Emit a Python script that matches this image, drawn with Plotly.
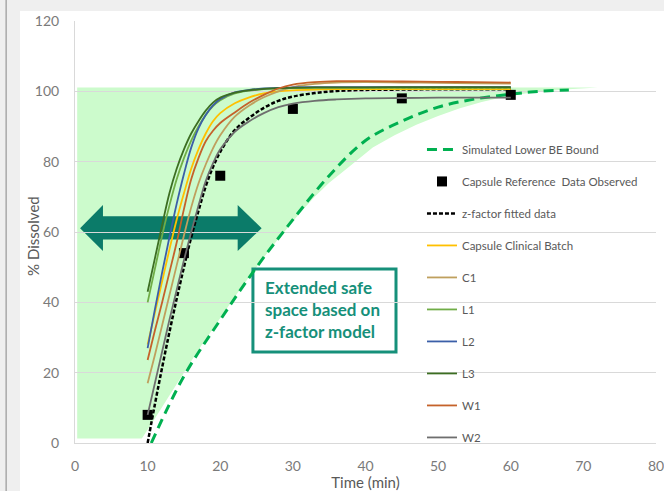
import plotly.graph_objects as go

# ---- dissolution data (% dissolved vs time in minutes) ----
t_fit = [10, 11, 12, 13, 14, 15, 16, 17, 18, 19, 20, 22, 24, 26, 28, 30, 33, 36, 40, 45, 50, 55, 60]

z_factor = [0, 11, 21.5, 31.5, 41, 50, 58.5, 66, 73, 78.5, 82.8, 89, 92.5, 95.3, 97.3, 98.5,
            99.5, 100.1, 100.4, 100.5, 100.6, 100.6, 100.6]
clinical = [28, 37, 46, 55, 63.5, 71, 78, 83.5, 88, 91.5, 93.8, 96.6, 98.3, 99.4, 100, 100.3,
            100.5, 100.6, 100.6, 100.6, 100.6, 100.6, 100.6]
c1 = [17, 25, 33.5, 42, 50.5, 59, 67, 73.8, 79.2, 83.8, 87.5, 92.8, 96, 98.3, 100, 101.2,
      102.1, 102.5, 102.6, 102.5, 102.4, 102.3, 102.2]
l1 = [40, 49.5, 59, 67.5, 75, 81, 86, 90, 93.3, 95.8, 97.5, 99.4, 100.2, 100.6, 100.8, 101,
      101, 101, 101, 101, 101, 101, 101]
l2 = [27, 38, 48.5, 58.5, 68, 76.5, 84, 89.5, 93.3, 96, 97.8, 99.7, 100.4, 100.8, 101, 101.1,
      101.2, 101.2, 101.2, 101.2, 101.2, 101.2, 101.2]
l3 = [43, 52.5, 62, 71, 78, 83.5, 88, 91.5, 94.5, 96.8, 98.2, 99.6, 100.3, 100.7, 100.9, 101,
      101.1, 101.1, 101.1, 101.2, 101.2, 101.2, 101.2]
w1 = [23.6, 32, 40, 48.5, 57, 66.5, 75, 81, 85.8, 88.8, 91, 94, 96.8, 99, 100.8, 101.9,
      102.6, 102.9, 102.9, 102.8, 102.7, 102.6, 102.5]
w2 = [8, 17, 26, 35, 43.5, 52, 60, 67.5, 74.5, 79.5, 83.5, 88.5, 91.5, 93.8, 95.5, 96.5,
      97.3, 97.7, 98, 98.1, 98.2, 98.2, 98.2]

# observed reference capsule data
t_obs = [10, 15, 20, 30, 45, 60]
ref_obs = [8, 54, 76, 95, 98, 99]

# simulated lower bioequivalence bound
t_be = [10.5, 15, 20, 25, 30, 35, 40, 45, 50, 55, 60, 64, 68]
be_lower = [0, 19, 35, 50, 63.5, 76, 86, 91.5, 95.5, 97.8, 99.2, 100, 100.4]

# outline of the extended safe space region
band_x = [0.3, 0.3, 72, 68, 65, 62, 59, 56, 53, 50, 47, 44, 41, 38, 35, 33, 31, 29, 27, 25,
          23, 21, 19, 17, 15, 13, 11, 9.2]
band_y = [1.3, 101.1, 101.1, 100.6, 100.1, 99.4, 98.4, 97, 95.2, 93, 90.5, 87.5, 84, 79, 74,
          70, 65.5, 60.5, 55.5, 50, 44.5, 38.5, 32.5, 26.5, 20, 13.5, 7, 1.3]

# double-headed arrow outline (time, % dissolved)
arrow_x = [0.7, 3.85, 3.85, 22.4, 22.4, 25.7, 22.4, 22.4, 3.85, 3.85]
arrow_y = [61.1, 67.7, 64.5, 64.5, 67.7, 61.1, 54.6, 57.9, 57.9, 54.6]

TEAL = "#0B7B69"
TEXT_TEAL = "#16907A"


def path_from(xs, ys):
    pts = [f"{x},{y}" for x, y in zip(xs, ys)]
    return "M " + " L ".join(pts) + " Z"


fig = go.Figure()

fig.add_trace(go.Scatter(
    x=t_be, y=be_lower, mode="lines", name="Simulated Lower BE Bound",
    line=dict(color="#00B050", width=3, dash="10px,6px", shape="spline"),
    legendgroup="g1"))
fig.add_trace(go.Scatter(
    x=t_obs, y=ref_obs, mode="markers", name="Capsule Reference  Data Observed",
    marker=dict(symbol="square", size=10, color="black"), legendgroup="g2"))
fig.add_trace(go.Scatter(
    x=t_fit, y=z_factor, mode="lines", name="z-factor fitted data",
    line=dict(color="black", width=2.5, dash="4px,2px", shape="spline"), legendgroup="g3"))

batches = [
    ("Capsule Clinical Batch", clinical, "#FFC000"),
    ("C1", c1, "#BFA05E"),
    ("L1", l1, "#70AD47"),
    ("L2", l2, "#3B5FA8"),
    ("L3", l3, "#3C6E22"),
    ("W1", w1, "#C5622A"),
    ("W2", w2, "#6E6E6E"),
]
for i, (name, vals, col) in enumerate(batches):
    fig.add_trace(go.Scatter(
        x=t_fit, y=vals, mode="lines", name=name,
        line=dict(color=col, width=1.8, shape="spline"), legendgroup=f"b{i}"))

shapes = [
    # white chart panel over the grey window frame
    dict(type="rect", xref="paper", yref="paper", x0=-0.0947, x1=1.02, y0=-0.12, y1=1.0237,
         fillcolor="white", line=dict(width=0), layer="below"),
    dict(type="line", xref="paper", yref="paper", x0=-0.1185, x1=-0.1185, y0=-0.12, y1=1.06,
         line=dict(color="#A8A8A8", width=1.5), layer="below"),
    # safe space band
    dict(type="path", xref="x", yref="y", path=path_from(band_x, band_y),
         fillcolor="#CCFBCC", line=dict(width=0), layer="below"),
    # annotation frame
    dict(type="rect", xref="x", yref="y", x0=24.5, x1=44.2, y0=25.9, y1=49.5,
         fillcolor="white", line=dict(color=TEXT_TEAL, width=3), layer="below"),
    # arrow
    dict(type="path", xref="x", yref="y", path=path_from(arrow_x, arrow_y),
         fillcolor=TEAL, line=dict(width=0), layer="below"),
]

annotations = [
    dict(text="<b>Extended safe<br>space based on<br>z-factor model</b>", xref="x", yref="y",
         x=25.9, y=38, xanchor="left", yanchor="middle", align="left", showarrow=False,
         font=dict(family="Lato", size=17, color=TEXT_TEAL)),
    dict(text="% Dissolved", xref="paper", yref="paper", x=-0.0725, y=0.4905, textangle=-90,
         xanchor="center", yanchor="middle", showarrow=False,
         font=dict(family="Lato", size=15, color="#595959")),
]

fig.update_layout(
    width=664, height=491,
    margin=dict(l=75, r=8, t=21, b=48, autoexpand=False),
    paper_bgcolor="#EFEFEF", plot_bgcolor="white",
    font=dict(family="Lato", color="#595959"),
    shapes=shapes, annotations=annotations,
    showlegend=True,
    legend=dict(x=0.5972, xanchor="left", y=0.73, yanchor="top",
                bgcolor="rgba(0,0,0,0)", font=dict(size=11.5, color="#595959"),
                tracegroupgap=13, itemwidth=30),
    xaxis=dict(range=[0, 80], tick0=0, dtick=10, showgrid=False, zeroline=False,
               showline=True, linecolor="#D9D9D9", linewidth=1, ticks="",
               automargin=False, ticklabelstandoff=10, ticklabeloverflow="allow",
               tickfont=dict(size=14, color="#7A7A7A"),
               title=dict(text="Time (min)", standoff=0,
                          font=dict(family="Lato", size=15, color="#595959"))),
    yaxis=dict(range=[0, 120], tick0=0, dtick=20, showgrid=True, gridcolor="#D9D9D9",
               gridwidth=1, zeroline=False, showline=True, linecolor="#D9D9D9",
               automargin=False, ticks="", ticklabelstandoff=12,
               tickfont=dict(size=14, color="#7A7A7A")),
)

fig.write_html("out.html")
